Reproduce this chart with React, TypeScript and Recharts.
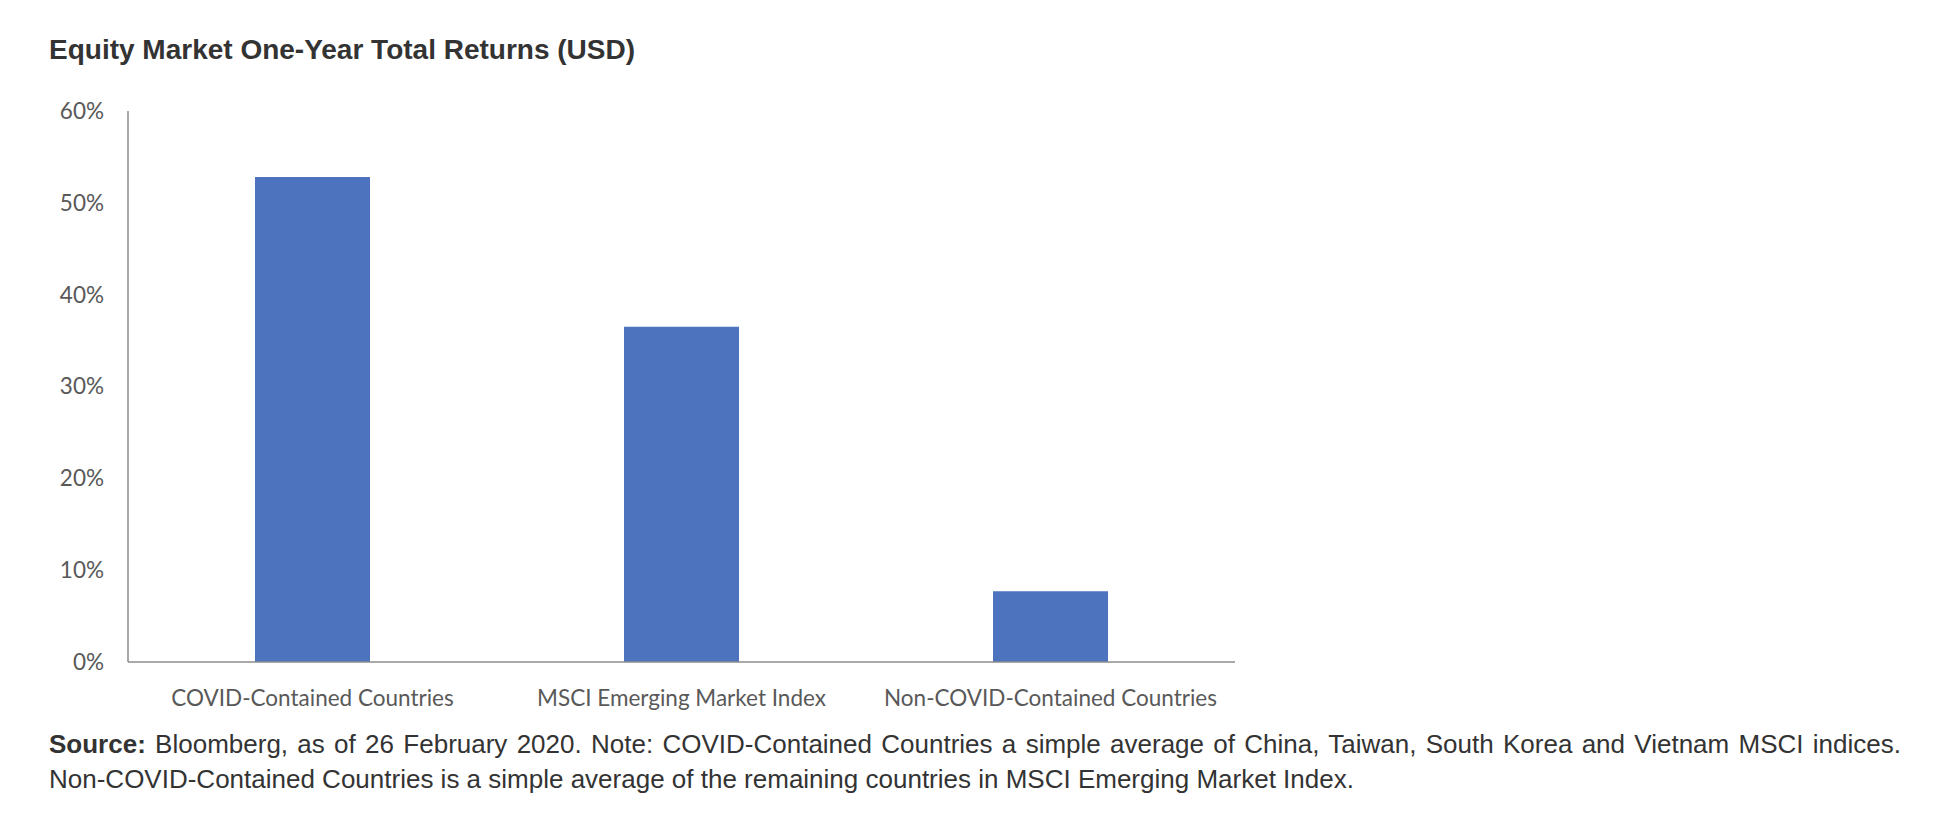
import { BarChart, Bar, XAxis, YAxis } from 'recharts';

const categories = ['COVID-Contained Countries', 'MSCI Emerging Market Index', 'Non-COVID-Contained Countries'];
const returns = [52.8, 36.5, 7.7];
const yTicks = [0, 10, 20, 30, 40, 50, 60];

const data = categories.map((name, i) => ({ name, value: returns[i] }));

const textFont = '"Liberation Sans", Arial, sans-serif';
const tickStyle = { fontFamily: 'Lato, sans-serif', fontSize: 22.5, fill: '#595959' };

export default function App(): React.JSX.Element {
    return (
        <div style={{ position: 'absolute', left: 0, top: 0, width: 1939, height: 828, background: '#fff' }}>
            <div
                style={{
                    position: 'absolute', left: 49, top: 35.6, fontFamily: textFont, fontWeight: 'bold',
                    fontSize: 28, lineHeight: 1, color: '#333', whiteSpace: 'nowrap',
                }}
            >
                Equity Market One-Year Total Returns (USD)
            </div>
            <div style={{ position: 'absolute', left: 0, top: 0 }}>
                <BarChart width={1300} height={760} data={data} margin={{ top: 111, right: 65, bottom: 58, left: 48 }}>
                    <XAxis
                        dataKey="name"
                        height={40}
                        tickLine={false}
                        tickSize={0}
                        tickMargin={28}
                        axisLine={{ stroke: '#8c8c8c', strokeWidth: 1.5 }}
                        tick={tickStyle}
                        interval={0}
                    />
                    <YAxis
                        width={80}
                        domain={[0, 60]}
                        ticks={yTicks}
                        tickFormatter={(v: number) => `${v}%`}
                        tickLine={false}
                        tickSize={0}
                        tickMargin={24}
                        axisLine={{ stroke: '#8c8c8c', strokeWidth: 1.5 }}
                        tick={tickStyle}
                    />
                    <Bar dataKey="value" fill="#4e73be" barSize={115} isAnimationActive={false} />
                </BarChart>
            </div>
            <div
                style={{
                    position: 'absolute', left: 49, top: 726.8, width: 1852, fontFamily: textFont, fontSize: 26,
                    lineHeight: '35px', color: '#333',
                }}
            >
                <div style={{ textAlign: 'justify', textAlignLast: 'justify', whiteSpace: 'nowrap' }}>
                    <b>Source:</b> Bloomberg, as of 26 February 2020. Note: COVID-Contained Countries a simple average of China, Taiwan, South Korea and Vietnam MSCI indices.
                </div>
                <div style={{ whiteSpace: 'nowrap' }}>
                    Non-COVID-Contained Countries is a simple average of the remaining countries in MSCI Emerging Market Index.
                </div>
            </div>
        </div>
    );
}
